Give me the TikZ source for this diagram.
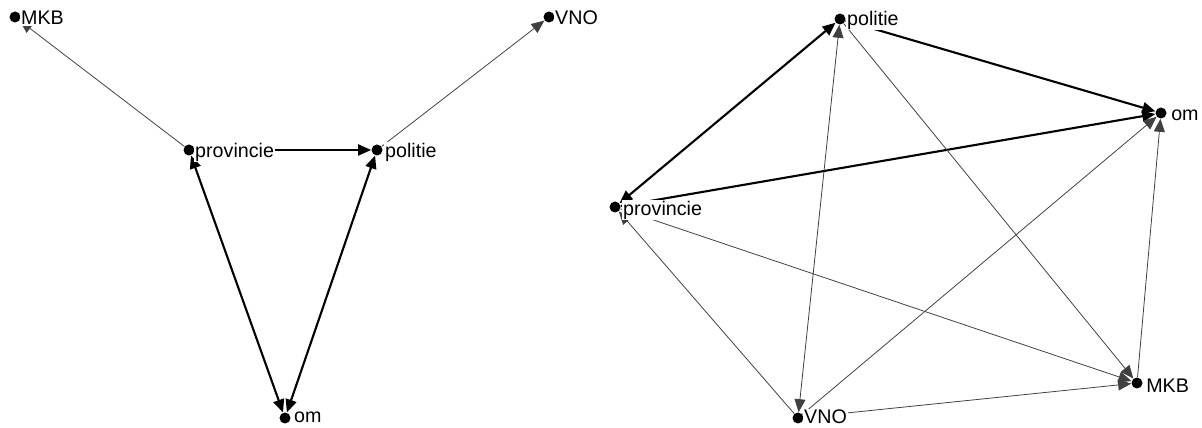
\documentclass[tikz,border=0pt]{standalone}
\usepackage{fontspec}
\setmainfont{Liberation Sans}
\usepackage{tikz}
\usetikzlibrary{positioning,calc,arrows.meta}

\begin{document}
\begin{tikzpicture}[x=0.02cm,y=-0.02cm]
	\tikzset{
		actor/.style={
			circle, fill=black, draw=none,
			minimum size=0.22cm, inner sep=0pt
		},
		lbl/.style={
			font=\fontsize{11.2}{12}\selectfont, inner sep=0.5pt, fill=white
		},
		tie/.style={
			-{Triangle[length=2.6mm,width=2.2mm]},
			draw=black!75, line width=0.45pt
		},
		strong/.style={
			-{Triangle[length=2.6mm,width=2.2mm]},
			draw=black, line width=1.2pt
		},
		both/.style={
			{Triangle[length=2.6mm,width=2.2mm]}-{Triangle[length=2.6mm,width=2.2mm]}
		}
	}
	\useasboundingbox (0,0) rectangle (1202,428);

	% ======= linker netwerk =======
	\node[actor] (amkb)  at ( 15, 17) {};
	\node[actor] (avno)  at (549, 17) {};
	\node[actor] (aprov) at (189,150) {};
	\node[actor] (apol)  at (377,150) {};
	\node[actor] (aom)   at (285,418) {};

	\draw[tie] (aprov) -- (amkb);
	\draw[tie] (apol) -- (avno);
	\draw[strong] (aprov) -- (apol);
	\draw[strong, both] (aprov) -- (aom);
	\draw[strong, both] (aom) -- (apol);

	\node[lbl, anchor=west] at ($(amkb)+(5,1)$)  {MKB};
	\node[lbl, anchor=west] at ($(avno)+(5,1)$)  {VNO};
	\node[lbl, anchor=west] at ($(aprov)+(5,2)$) {provincie};
	\node[lbl, anchor=west] at ($(apol)+(7,2)$)  {politie};
	\node[lbl, anchor=west] at ($(aom)+(8,-1)$)  {om};

	% ======= rechter netwerk =======
	\node[actor] (bpol)  at ( 840, 19) {};
	\node[actor] (bom)   at (1161,113) {};
	\node[actor] (bprov) at ( 615,207) {};
	\node[actor] (bmkb)  at (1137,383) {};
	\node[actor] (bvno)  at ( 798,418) {};

	\draw[strong, both] (bprov) -- (bpol);
	\draw[strong] (bpol) -- (bom);
	\draw[strong] (bprov) -- (bom);
	\draw[tie] (bpol) -- (bmkb);
	\draw[tie, both] (bvno) -- (bpol);
	\draw[tie] (bprov) -- (bmkb);
	\draw[tie] (bvno) -- (bprov);
	\draw[tie] (bvno) -- (bom);
	\draw[tie] (bvno) -- (bmkb);
	\draw[tie] (bmkb) -- (bom);

	\node[lbl, anchor=west] at ($(bpol)+(6,1)$)  {politie};
	\node[lbl, anchor=west] at ($(bom)+(9,2)$)   {om};
	\node[lbl, anchor=west] at ($(bprov)+(7,3)$) {provincie};
	\node[lbl, anchor=west] at ($(bmkb)+(8,3)$)  {MKB};
	\node[lbl, anchor=west] at ($(bvno)+(5,-1)$) {VNO};

\end{tikzpicture}
\end{document}
